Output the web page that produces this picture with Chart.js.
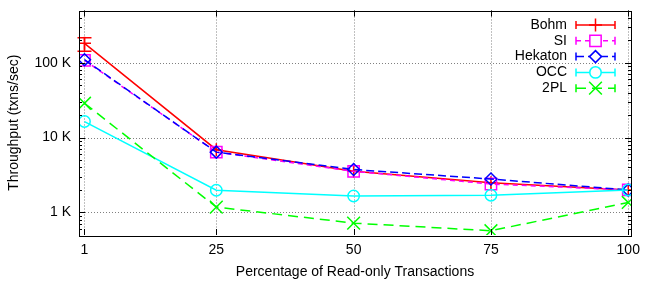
<!DOCTYPE html>
<html>
<head>
<meta charset="utf-8">
<script src="https://cdn.jsdelivr.net/npm/chart.js@4.4.0/dist/chart.umd.min.js"></script>
<style>
  html, body { margin: 0; padding: 0; background: #fff; }
  #wrap { width: 645px; height: 284px; }
</style>
</head>
<body>
<div id="wrap"><canvas id="chart"></canvas></div>
<script>
// percentage of read-only transactions
const readOnlyPct = [1, 25, 50, 75, 100];

// throughput, txns/sec
const bohm = [182000, 6900, 3550, 2500, 2000];
const si = [108000, 6400, 3550, 2400, 2000];
const hekaton = [110000, 6400, 3750, 2800, 2000];
const occ = [16400, 1980, 1660, 1700, 2000];
const twoPL = [28800, 1180, 720, 570, 1360];

// error bar for Bohm (only visible one)
const bohmLow = [143000, null, null, null, null];
const bohmHigh = [216000, null, null, null, null];

const xTicks = [1, 25, 50, 75, 100];
const yMajorTicks = [1000, 10000, 100000];
const yMin = 500, yMax = 500000;

const FONT = "'Liberation Sans', Arial, sans-serif";
const FSIZE = 14;

function pts(values) {
    return readOnlyPct.map((x, i) => ({ x: x, y: values[i] }));
}

function series(label, values, color, dash, style, radius, order) {
    return {
        label: label,
        data: pts(values),
        borderColor: color,
        backgroundColor: 'rgba(0,0,0,0)',
        borderWidth: 1.5,
        borderDash: dash,
        pointStyle: style,
        pointRadius: radius,
        pointBorderColor: color,
        pointBackgroundColor: 'rgba(0,0,0,0)',
        pointBorderWidth: 1.5,
        tension: 0,
        order: order
    };
}

const datasets = [
    series('Bohm', bohm, '#ff0000', [], 'cross', 6.5, 5),
    series('SI', si, '#ff00ff', [5, 4], 'rect', 8, 4),
    series('Hekaton', hekaton, '#0000ff', [8, 4], 'rectRot', 6, 3),
    series('OCC', occ, '#00ffff', [], 'circle', 5.7, 2),
    series('2PL', twoPL, '#00ff00', [10, 6], 'crossRot', 9, 1)
];

// gnuplot-like frame, grid, inward ticks, error bars and legend
const gnuplotLook = {
    id: 'gnuplotLook',
    beforeDatasetsDraw(chart) {
        const { ctx, chartArea: a, scales } = chart;
        ctx.save();
        ctx.strokeStyle = '#808080';
        ctx.lineWidth = 1;
        ctx.setLineDash([1, 2]);
        xTicks.forEach(v => {
            const px = Math.round(scales.x.getPixelForValue(v)) + 0.5;
            ctx.beginPath();
            ctx.moveTo(px, a.top);
            ctx.lineTo(px, a.bottom);
            ctx.stroke();
        });
        yMajorTicks.forEach(v => {
            const py = Math.round(scales.y.getPixelForValue(v)) + 0.5;
            ctx.beginPath();
            ctx.moveTo(a.left, py);
            ctx.lineTo(a.right, py);
            ctx.stroke();
        });
        ctx.restore();
    },
    afterDatasetsDraw(chart) {
        const { ctx, chartArea: a, scales } = chart;
        ctx.save();
        // error bars
        ctx.strokeStyle = '#ff0000';
        ctx.lineWidth = 1.5;
        readOnlyPct.forEach((x, i) => {
            if (bohmLow[i] == null) return;
            const px = scales.x.getPixelForValue(x);
            const y1 = scales.y.getPixelForValue(bohmLow[i]);
            const y2 = scales.y.getPixelForValue(bohmHigh[i]);
            ctx.beginPath();
            ctx.moveTo(px, y1); ctx.lineTo(px, y2);
            ctx.moveTo(px - 7, y1); ctx.lineTo(px + 7, y1);
            ctx.moveTo(px - 7, y2); ctx.lineTo(px + 7, y2);
            ctx.stroke();
        });

        // frame
        ctx.strokeStyle = '#000';
        ctx.lineWidth = 1;
        ctx.strokeRect(Math.round(a.left) + 0.5, Math.round(a.top) + 0.5,
            Math.round(a.right - a.left), Math.round(a.bottom - a.top));

        // inward ticks
        ctx.beginPath();
        scales.y.ticks.forEach(t => {
            const py = Math.round(scales.y.getPixelForValue(t.value)) + 0.5;
            if (py < a.top || py > a.bottom) return;
            const len = yMajorTicks.includes(t.value) ? 6 : 3;
            ctx.moveTo(a.left, py); ctx.lineTo(a.left + len, py);
            ctx.moveTo(a.right, py); ctx.lineTo(a.right - len, py);
        });
        xTicks.forEach(v => {
            const px = Math.round(scales.x.getPixelForValue(v)) + 0.5;
            ctx.moveTo(px, a.bottom); ctx.lineTo(px, a.bottom - 6);
            ctx.moveTo(px, a.top); ctx.lineTo(px, a.top + 6);
        });
        ctx.stroke();

        // legend
        ctx.font = FSIZE + 'px ' + FONT;
        ctx.textAlign = 'right';
        ctx.textBaseline = 'middle';
        chart.data.datasets.forEach((ds, i) => {
            const y = 25 + i * 15.8;
            ctx.fillStyle = '#000';
            ctx.fillText(ds.label, 567, y);
            ctx.strokeStyle = ds.borderColor;
            ctx.lineWidth = ds.borderWidth;
            ctx.setLineDash(ds.borderDash);
            ctx.beginPath();
            ctx.moveTo(576, y); ctx.lineTo(615, y);
            ctx.stroke();
            ctx.setLineDash([]);
            ctx.beginPath();
            ctx.moveTo(576, y - 4); ctx.lineTo(576, y + 4);
            ctx.moveTo(615, y - 4); ctx.lineTo(615, y + 4);
            ctx.stroke();
            ctx.fillStyle = '#fff';
            Chart.helpers.drawPoint(ctx, {
                pointStyle: ds.pointStyle,
                radius: ds.pointRadius,
                borderWidth: ds.pointBorderWidth,
                rotation: 0
            }, 595.5, y);
        });
        ctx.restore();
    }
};

const ctx = document.getElementById('chart').getContext('2d');
new Chart(ctx, {
    type: 'line',
    data: { datasets: datasets },
    options: {
        responsive: true,
        maintainAspectRatio: false,
        animation: false,
        layout: { padding: { left: 0, top: 10, right: 14, bottom: 0 } },
        plugins: { legend: { display: false }, tooltip: { enabled: false } },
        scales: {
            x: {
                type: 'linear',
                min: 0,
                max: 100.5,
                grid: { display: false, drawTicks: false },
                border: { display: false },
                afterBuildTicks: scale => { scale.ticks = xTicks.map(v => ({ value: v })); },
                afterFit: scale => {
                    scale.height = 49;
                    scale.paddingLeft = 0;
                    scale.paddingRight = 0;
                },
                ticks: {
                    autoSkip: false,
                    maxRotation: 0,
                    padding: 7,
                    color: '#000',
                    font: { family: FONT, size: FSIZE },
                    callback: v => String(v)
                },
                title: {
                    display: true,
                    text: 'Percentage of Read-only Transactions',
                    color: '#000',
                    font: { family: FONT, size: FSIZE },
                    padding: { top: 0, bottom: 3 }
                }
            },
            y: {
                type: 'logarithmic',
                min: yMin,
                max: yMax,
                grid: { display: false, drawTicks: false },
                border: { display: false },
                afterBuildTicks: scale => {
                    const ticks = [];
                    [100, 1000, 10000, 100000].forEach(d => {
                        for (let m = 1; m <= 9; m++) {
                            const v = m * d;
                            if (v >= yMin && v <= yMax) ticks.push({ value: v });
                        }
                    });
                    scale.ticks = ticks;
                },
                afterFit: scale => {
                    scale.width = 79;
                    scale.paddingTop = 0;
                    scale.paddingBottom = 0;
                },
                ticks: {
                    autoSkip: false,
                    padding: 8,
                    color: '#000',
                    font: { family: FONT, size: FSIZE },
                    callback: v => yMajorTicks.includes(v) ? (v / 1000) + ' K' : ''
                },
                title: {
                    display: true,
                    text: 'Throughput (txns/sec)',
                    color: '#000',
                    font: { family: FONT, size: FSIZE },
                    padding: { top: 6, bottom: 0 }
                }
            }
        }
    },
    plugins: [gnuplotLook]
});
</script>
</body>
</html>
